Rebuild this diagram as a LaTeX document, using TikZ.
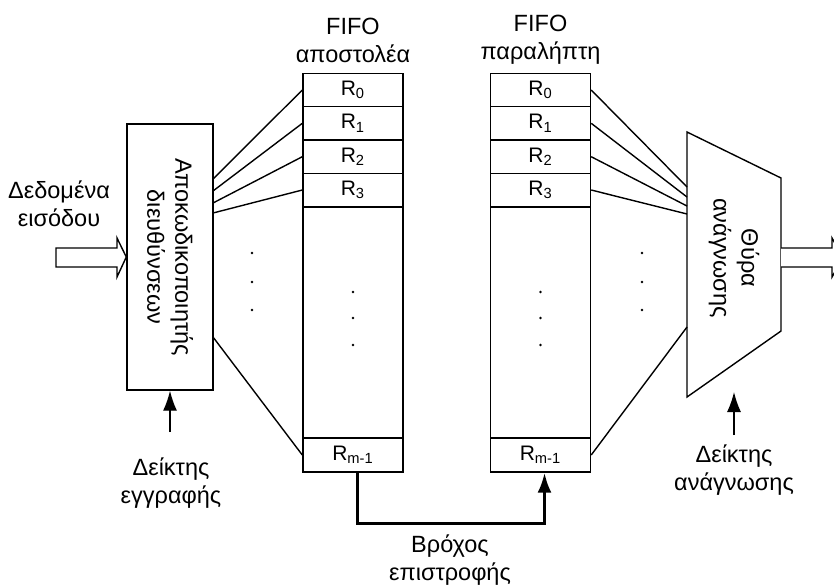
\documentclass[tikz,border=0pt]{standalone}
\usepackage{fontspec}
\setmainfont{Liberation Sans}
\usepackage{tikz}
\usetikzlibrary{positioning, arrows.meta, calc}

\begin{document}
\begin{tikzpicture}[
    x = 0.5pt, y = -0.5pt,
    line width = 0.7pt,
    font = \fontsize{11.75}{14}\selectfont,
    lbl/.style={align=center, inner sep=0pt},
    reg/.style={draw, minimum width=50pt, minimum height=16.65pt, inner sep=0pt,
                font=\fontsize{10.5}{12}\selectfont},
    ptr/.style={-{Latex[length=10pt, width=7pt]}},
    hollow/.style={draw, fill=white},
    dot/.style={circle, fill, inner sep=0pt, minimum size=1.4pt}
]
\useasboundingbox (0,0) rectangle (834,586);

% --- Decoder ---
\node[draw, minimum width=43pt, minimum height=133pt] (dec) at (170,257) {};
\node[lbl, rotate=-90] (dectxt) at (dec.center) {Αποκωδικοποιητής\\διευθύνσεων};

% input arrow
\node[lbl] (inlbl) at (59,204) {Δεδομένα\\εισόδου};
\draw[hollow] (56,248) -- (117,248) -- (117,238) -- (dec.west)
    -- (117,277) -- (117,267) -- (56,267) -- cycle;

% write pointer
\node[lbl] (wlbl) at (171,483) {Δείκτης\\εγγραφής};
\coordinate (wp) at (170,432);
\draw[ptr] (wp) -- (dec.south);

% --- Sender FIFO ---
\node[lbl] (slbl) at (353,40) {FIFO\\αποστολέα};
\foreach \i/\y in {0/90, 1/123.3, 2/156.7, 3/190}
    \node[reg] (s\i) at (353,\y) {R\textsubscript{\i}};
\node[draw, minimum width=50pt, minimum height=115.5pt] (smid) at (353,322.5) {};
\node[reg, minimum height=17pt] (sm) at (353,455) {R\textsubscript{m-1}};

% --- Receiver FIFO ---
\node[lbl] (rlbl) at (540.5,40) {FIFO\\παραλήπτη};
\foreach \i/\y in {0/90, 1/123.3, 2/156.7, 3/190}
    \node[reg] (r\i) at (540.5,\y) {R\textsubscript{\i}};
\node[draw, minimum width=50pt, minimum height=115.5pt] (rmid) at (540.5,322.5) {};
\node[reg, minimum height=17pt] (rm) at (540.5,455) {R\textsubscript{m-1}};

% dots
\foreach \x/\y in {252/253, 252/282, 252/310, 353/292, 353/318, 353/345,
                   540.5/292, 540.5/318, 540.5/345, 642/253, 642/282, 642/310}
    \node[dot] at (\x,\y) {};

% decoder fan-out
\foreach \i/\y in {0/179, 1/191, 2/203, 3/213}{
    \coordinate (d\i) at (213,\y);
    \draw (d\i) -- (s\i.west);
}
\coordinate (dm) at (213,337);
\draw (dm) -- (sm.west);

% --- Read port ---
\coordinate (tl) at (687,132);
\coordinate (tr) at (781,178);
\coordinate (br) at (781,331);
\coordinate (bl) at (687,397);
\draw (tl) -- (tr) -- (br) -- (bl) -- cycle;
\node[lbl, rotate=-90] (port) at (734,258) {Θύρα\\ανάγνωσης};

\foreach \i/\y in {0/187, 1/197, 2/206, 3/214}{
    \coordinate (p\i) at (687,\y);
    \draw (r\i.east) -- (p\i);
}
\coordinate (pm) at (687,327);
\draw (rm.east) -- (pm);

% output arrow
\draw[hollow] (781,248) -- (832,248) -- (832,238) -- (843,257.5)
    -- (832,277) -- (832,267) -- (781,267);

% read pointer
\node[lbl] (rdlbl) at (734,470) {Δείκτης\\ανάγνωσης};
\coordinate (rp) at (734,435);
\coordinate (rt) at (734,392);
\draw[ptr] (rp) -- (rt);

% --- Loop back ---
\draw[line width=1.5pt, -{Latex[length=10pt, width=7pt]}]
    ($(sm.south)+(4,0)$) -- ++(0,51) -| ($(rm.south)+(4,0)$);
\node[lbl] (looplbl) at (450,560) {Βρόχος\\επιστροφής};

\end{tikzpicture}
\end{document}
